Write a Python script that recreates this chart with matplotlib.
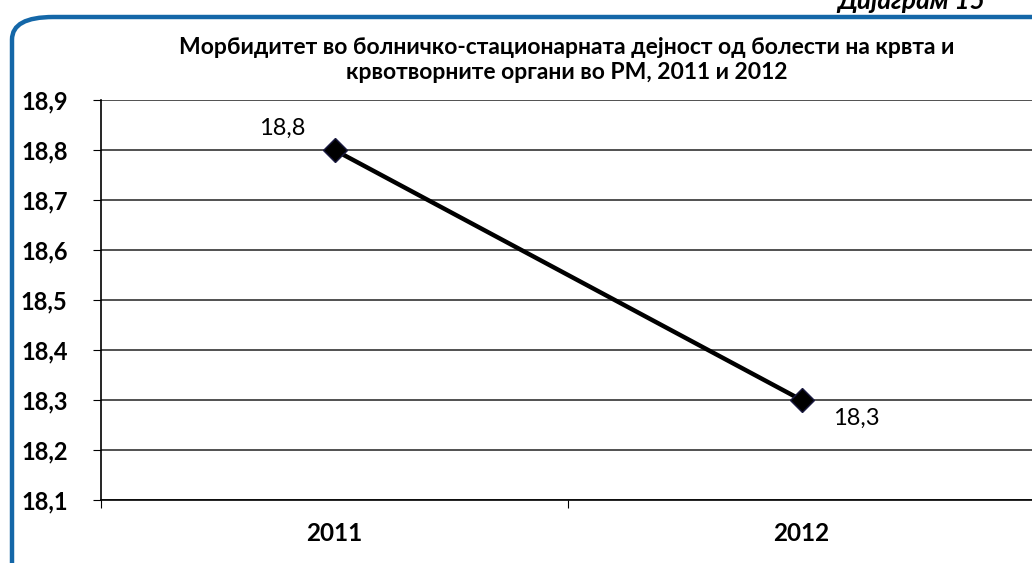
import matplotlib.pyplot as plt
from matplotlib.patches import FancyBboxPatch
from matplotlib.ticker import FuncFormatter

years = ['2011', '2012']
values = [18.8, 18.3]
labels = ['18,8', '18,3']
yticks = [18.1, 18.2, 18.3, 18.4, 18.5, 18.6, 18.7, 18.8, 18.9]

plt.rcParams['font.family'] = ['Lato', 'DejaVu Sans']
plt.rcParams['font.weight'] = 'bold'

W, H = 1032, 563
fig = plt.figure(figsize=(W / 100, H / 100), dpi=100)

# blue rounded frame
frame = FancyBboxPatch((12 / W, -40 / H), 1100 / W, (546 + 40) / H,
                       boxstyle='round,pad=0,rounding_size=0.04',
                       transform=fig.transFigure, fill=False,
                       edgecolor='#1467a8', linewidth=3.2, clip_on=False)
fig.patches.append(frame)

fig.text(985 / W, 1 - 1 / H, 'Дијаграм 15', ha='right', va='center',
         fontsize=19, fontweight='bold', style='italic')

fig.text(567 / W, 1 - 60 / H,
         'Морбидитет во болничко-стационарната дејност од болести на крвта и\n'
         'крвотворните органи во РМ, 2011 и 2012',
         ha='center', va='center', fontsize=16.5, fontweight='bold', linespacing=1.2)

ax = fig.add_axes([101 / W, 63 / H, 934 / W, 400 / H])
x = [0, 1]
ax.plot(x, values, color='black', lw=3.2, marker='D', markersize=12,
        markerfacecolor='black', markeredgecolor='#1a1a40', zorder=3)
ax.set_xlim(-0.5, 1.5)
ax.set_ylim(18.1, 18.9)
ax.set_yticks(yticks)
ax.yaxis.set_major_formatter(FuncFormatter(lambda v, p: f'{v:.1f}'.replace('.', ',')))
ax.set_xticks([-0.5, 0.5, 1.5])
ax.set_xticklabels([])
ax.set_xticks(x, minor=True)
ax.set_xticklabels(years, minor=True, fontweight='bold')
ax.tick_params(axis='x', which='minor', length=0, pad=16, labelsize=17.5)
ax.tick_params(axis='x', which='major', length=6, direction='out')
ax.tick_params(axis='y', length=6, direction='out', labelsize=17, pad=18)
ax.grid(axis='y', color='#333333', lw=1.2)
for s in ['top', 'right']:
    ax.spines[s].set_visible(False)
ax.spines['left'].set_linewidth(1.2)
ax.spines['bottom'].set_linewidth(1.2)

ax.annotate(labels[0], (x[0], values[0]), xytext=(-52, 22), textcoords='offset pixels',
            ha='center', va='center', fontsize=17, fontweight='normal')
ax.annotate(labels[1], (x[1], values[1]), xytext=(55, -18), textcoords='offset pixels',
            ha='center', va='center', fontsize=17, fontweight='normal')

fig.savefig('out.png', dpi=100)
